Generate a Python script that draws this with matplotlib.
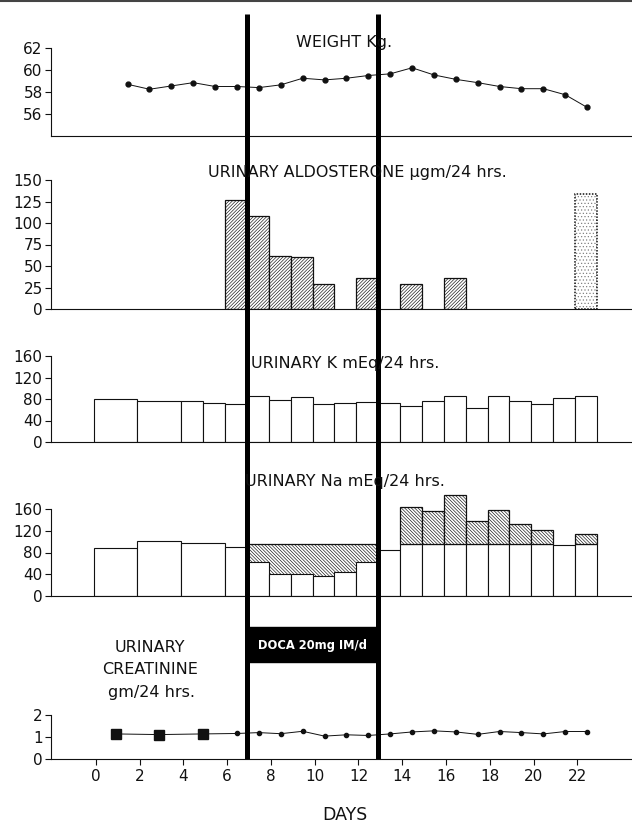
import matplotlib
matplotlib.use('Agg')
import matplotlib.pyplot as plt
import matplotlib.patches as patches
from matplotlib.lines import Line2D
import numpy as np

plt.rcParams['font.family'] = ['DejaVu Sans']
plt.rcParams['hatch.linewidth'] = 0.45

# ---- data (day numbers) ----
weight_days = list(range(1, 23))
weight_kg = [58.7, 58.25, 58.55, 58.85, 58.5, 58.5, 58.4, 58.65, 59.25, 59.1, 59.25,
             59.5, 59.65, 60.2, 59.55, 59.15, 58.85, 58.5, 58.3, 58.3, 57.75, 56.6]

aldo_days = [6, 7, 8, 9, 10, 12, 14, 16, 22]
aldo_vals = [127, 108, 62, 60, 29, 36, 29, 36, 134]

k_start = [0, 2, 4, 5, 6] + list(range(7, 23))
k_span = [2, 2, 1, 1, 1] + [1] * 16
k_vals = [80, 76, 76, 73, 70, 86, 78, 83, 70, 73, 75,
          72, 67, 77, 85, 64, 85, 77, 71, 81, 86]

na_start = [0, 2, 4, 6] + list(range(7, 23))
na_span = [2, 2, 2, 1] + [1] * 16
na_vals = [89, 101, 97, 90, 62, 41, 40, 37, 44, 62,
           85, 163, 156, 186, 138, 158, 133, 122, 94, 114]
na_intake = 95

creat_pool_start = [0, 2, 4]
creat_pool_vals = [1.14, 1.11, 1.14]
creat_days = list(range(6, 23))
creat_vals = [1.16, 1.2, 1.15, 1.26, 1.04, 1.1, 1.07, 1.14, 1.23, 1.28,
              1.23, 1.12, 1.25, 1.2, 1.14, 1.25, 1.25]

doca_start, doca_end = 7, 13
day_ticks = list(range(0, 23, 2))

# ---- layout helpers (pixel based) ----
W, H = 632, 824
LEFT = 51
SHIFT = -0.1          # collection periods start slightly before the integer day
XLIM = (-2.05, 24.5)
INK = '#111111'
HATCH_A = '/' * 10
HATCH_N = '\\' * 10

fig = plt.figure(figsize=(W / 100, H / 100), dpi=100)


def panel(y_top, y_bot, ylim, yticks, spine_top=None):
    ax = fig.add_axes([LEFT / W, 1 - y_bot / H, (W - LEFT) / W, (y_bot - y_top) / H])
    ax.set_xlim(XLIM)
    ax.set_ylim(ylim)
    ax.patch.set_alpha(0)
    for s in ['top', 'right']:
        ax.spines[s].set_visible(False)
    ax.spines['left'].set_bounds(ylim[0], spine_top if spine_top is not None else ylim[1])
    for s in ['left', 'bottom']:
        ax.spines[s].set_linewidth(0.8)
        ax.spines[s].set_color(INK)
    ax.set_yticks(yticks)
    ax.tick_params(axis='y', direction='out', length=4, width=0.8, labelsize=11, pad=2, colors=INK)
    ax.tick_params(axis='x', bottom=False, labelbottom=False)
    return ax


def label(x, y, s, size=11.5, **kw):
    fig.text(x / W, 1 - y / H, s, ha='center', va='center', fontsize=size, color=INK, **kw)


# weight
ax_w = panel(48, 136, (54, 62), [56, 58, 60, 62])
ax_w.plot(np.array(weight_days) + 0.45, weight_kg, '-o', color=INK, lw=0.7, ms=3.5)
label(344, 43, 'WEIGHT Kg.')

# aldosterone
ax_a = panel(180, 309, (0, 150), [0, 25, 50, 75, 100, 125, 150])
ax_a.bar(np.array(aldo_days[:-1]) + SHIFT, aldo_vals[:-1], width=1, align='edge',
         facecolor='white', edgecolor=INK, lw=0.9, hatch=HATCH_A)
# last sample: light stipple with a dotted outline
ax_a.bar(aldo_days[-1] + SHIFT, aldo_vals[-1], width=1, align='edge',
         facecolor='white', edgecolor='#7a7a7a', lw=0, hatch='.....')
ax_a.bar(aldo_days[-1] + SHIFT, aldo_vals[-1], width=1, align='edge',
         facecolor='none', edgecolor=INK, lw=1.1, ls=(0, (1, 1)))
label(357, 173, 'URINARY ALDOSTERONE \u03bcgm/24 hrs.')

# potassium
ax_k = panel(356, 442, (0, 160), [0, 40, 80, 120, 160])
ax_k.bar(np.array(k_start) + SHIFT, k_vals, width=k_span, align='edge',
         facecolor='white', edgecolor=INK, lw=0.8)
label(345, 363, 'URINARY K mEq/24 hrs.')

# sodium
ax_n = panel(596 - 87 * 190 / 160, 596, (0, 190), [0, 40, 80, 120, 160], spine_top=160)
na_start = np.array(na_start)
na_span = np.array(na_span)
na_vals = np.array(na_vals)
doca = (na_start >= doca_start) & (na_start < doca_end)
post = na_start >= doca_end + 1
# retained sodium during DOCA (hatched down from intake level)
ax_n.bar(na_start[doca] + SHIFT, na_intake - na_vals[doca], bottom=na_vals[doca],
         width=na_span[doca], align='edge', facecolor='white', edgecolor=INK, lw=0,
         hatch=HATCH_N)
ax_n.hlines(na_intake, doca_start + SHIFT, doca_end + SHIFT, color=INK, lw=0.9)
ax_n.bar(na_start + SHIFT, np.where(post, np.minimum(na_vals, na_intake), na_vals),
         width=na_span, align='edge', facecolor='white', edgecolor=INK, lw=0.8)
esc = post & (na_vals > na_intake)
ax_n.bar(na_start[esc] + SHIFT, na_vals[esc] - na_intake, bottom=na_intake,
         width=na_span[esc], align='edge', facecolor='white', edgecolor=INK, lw=0.9,
         hatch=HATCH_N)
label(345, 482, 'URINARY Na mEq/24 hrs.')

# creatinine
ax_c = panel(715, 759, (0, 2), [0, 1, 2])
cx = np.concatenate([np.array(creat_pool_start) + 1 + SHIFT, np.array(creat_days) + 0.45])
cy = creat_pool_vals + creat_vals
ax_c.plot(cx, cy, '-', color=INK, lw=0.7)
ax_c.plot(np.array(creat_pool_start) + 1 + SHIFT, creat_pool_vals, 's', color=INK, ms=6.5)
ax_c.plot(np.array(creat_days) + 0.45, creat_vals, 'o', color=INK, ms=3)
ax_c.set_xticks(day_ticks)
ax_c.tick_params(axis='x', bottom=True, labelbottom=True, direction='out', length=4,
                 width=0.8, labelsize=11, pad=3, colors=INK)
label(150, 647, 'URINARY')
label(150, 669, 'CREATININE')
label(152, 693, 'gm/24 hrs.')
label(345, 815, 'DAYS', size=12.5)

# DOCA period: heavy lines through all panels + black label box
ov = fig.add_axes([LEFT / W, 1 - 759 / H, (W - LEFT) / W, (759 - 14) / H])
ov.set_xlim(XLIM)
ov.set_ylim(759, 14)
ov.axis('off')
ov.vlines([doca_start + SHIFT, doca_end + SHIFT], 759, 14, color='black', lw=3.6)
ov.add_patch(patches.Rectangle((doca_start + SHIFT, 627), doca_end - doca_start, 35,
                               facecolor='black', edgecolor='black'))
ov.text((doca_start + doca_end) / 2 + SHIFT, 645, 'DOCA 20mg IM/d', color='white',
        fontsize=8.3, fontweight='bold', ha='center', va='center')

# scanner edge at the top of the page
fig.add_artist(Line2D([0, 1], [1 - 1 / H, 1 - 1 / H], color='#444444', lw=1.5))

fig.savefig('out.png', dpi=100)
